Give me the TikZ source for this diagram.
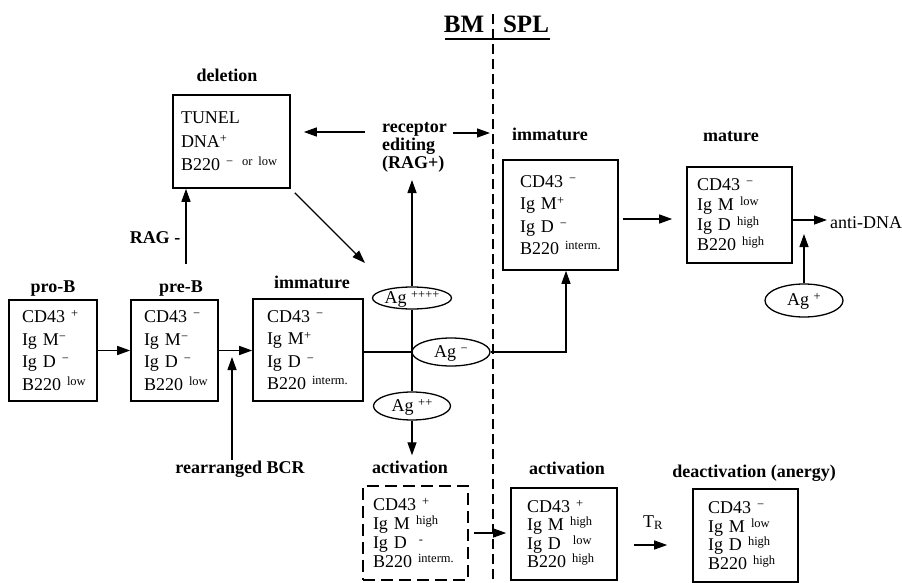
\documentclass[tikz,border=0pt]{standalone}
\usepackage{fontspec}
\setmainfont{Liberation Serif}
\usetikzlibrary{arrows.meta,shapes.geometric,calc}
\newcommand\spp[1]{\raisebox{5pt}{\fontsize{12.5}{12.5}\selectfont #1}}
\begin{document}
\begin{tikzpicture}[x=1pt,y=-1pt,
  arr/.style={line width=1.3pt,-{Triangle[length=13pt,width=9pt]}},
  ln/.style={line width=1.3pt},
  cellbox/.style={draw,line width=1.6pt,align=left,inner ysep=0pt},
  dcell/.style={cellbox,dash pattern=on 12pt off 6pt},
  ttl/.style={font=\fontsize{18}{20}\selectfont\bfseries,inner sep=0pt,anchor=base},
  agell/.style={draw,ellipse,line width=1.3pt,inner sep=0pt,text height=12pt,text depth=2pt,font=\fontsize{18}{20}\selectfont},
  txt/.style={font=\fontsize{18}{20}\selectfont,inner sep=0pt}
]
\useasboundingbox (0,0) rectangle (902,583);

% BM | SPL
\node[ttl,font=\fontsize{25}{28}\selectfont\bfseries] (bm) at (464,33) {BM};
\node[ttl,font=\fontsize{25}{28}\selectfont\bfseries] (spl) at (526,33) {SPL};
\draw[line width=1.5pt] (445,39) -- (550,39);
\draw[line width=1.3pt,dash pattern=on 10pt off 5pt] (493,14) -- (493,583);

% boxes
\node[cellbox,text width=62pt,inner xsep=13pt,minimum height=101pt,font=\fontsize{18}{22.5}\selectfont] (proB) at (53,350.5)
  {CD43~\spp{+}\\Ig~M\spp{−}\\Ig~D~\spp{−}\\B220~\spp{low}};
\node[cellbox,text width=61pt,inner xsep=13pt,minimum height=101pt,font=\fontsize{18}{22.5}\selectfont] (preB) at (174.5,350.5)
  {CD43~\spp{−}\\Ig~M\spp{−}\\Ig~D~\spp{−}\\B220~\spp{low}};
\node[cellbox,text width=82pt,inner xsep=14pt,minimum height=102pt,font=\fontsize{18}{22.5}\selectfont] (immBM) at (308,350)
  {CD43~\spp{−}\\Ig~M\spp{+}\\Ig~D~\spp{−}\\B220~\spp{interm.}};
\node[cellbox,text width=101pt,inner xsep=8pt,minimum height=93pt,font=\fontsize{18}{23.5}\selectfont] (del) at (231.5,141.5)
  {TUNEL\\DNA\spp{+}\\B220~\spp{−}\enspace\spp{or~low}};
\node[cellbox,text width=81pt,inner xsep=17pt,minimum height=110pt,font=\fontsize{18}{22.3}\selectfont] (immS) at (560.5,215)
  {CD43~\spp{−}\\Ig~M\spp{+}\\Ig~D~\spp{−}\\B220~\spp{interm.}};
\node[cellbox,text width=85pt,inner xsep=10pt,minimum height=96pt,font=\fontsize{18}{20}\selectfont] (mat) at (739.5,215)
  {CD43~\spp{−}\\Ig~M~\spp{low}\\Ig~D~\spp{high}\\B220~\spp{high}};
\node[dcell,text width=85pt,inner xsep=10pt,minimum height=94pt,font=\fontsize{18}{19}\selectfont] (dBM) at (415.5,533)
  {CD43~\spp{+}\\Ig~M~\spp{high}\\Ig~D~~\spp{-}\\B220~\spp{interm.}};
\node[cellbox,text width=74pt,inner xsep=16pt,minimum height=92pt,font=\fontsize{18}{18.5}\selectfont] (actS) at (564,534)
  {CD43~\spp{+}\\Ig~M~\spp{high}\\Ig~D~~\spp{low}\\B220~\spp{high}};
\node[cellbox,text width=75pt,inner xsep=15pt,minimum height=93pt,font=\fontsize{18}{18.7}\selectfont] (deact) at (745.5,535.5)
  {CD43~\spp{−}\\Ig~M~\spp{low}\\Ig~D~\spp{high}\\B220~\spp{high}};

% titles and labels
\node[ttl] (tproB) at (53,292) {pro-B};
\node[ttl] (tpreB) at (181,292) {pre-B};
\node[ttl] (timmBM) at (312,288) {immature};
\node[ttl] (tdel) at (227,82) {deletion};
\node[ttl] (timmS) at (550,140) {immature};
\node[ttl] (tmat) at (731,142) {mature};
\node[ttl] (tactBM) at (410,473) {activation};
\node[ttl] (tactS) at (567,474) {activation};
\node[ttl] (tdeact) at (754,477) {deactivation (anergy)};
\node[ttl] (bcr) at (240,473) {rearranged BCR};
\node[ttl] (rag) at (155,243) {RAG -};
\node[ttl,align=left,anchor=west,font=\fontsize{18}{18}\selectfont\bfseries] (rec) at (382,147.5) {receptor\\editing\\(RAG+)};
\node[txt,anchor=base west] (anti) at (830,228) {anti-DNA};
\node[txt,anchor=base] (tr) at (653,527) {T\textsubscript{R}};

% antigen ellipses
\node[agell,minimum width=79pt,minimum height=22pt] (ag4) at (412,298) {Ag~\spp{++++}};
\node[agell,minimum width=78pt,minimum height=28pt] (agm) at (451,352) {Ag~\spp{−}};
\node[agell,minimum width=77pt,minimum height=28pt] (ag2) at (412,406) {Ag~\spp{++}};
\node[agell,minimum width=78pt,minimum height=33pt] (agp) at (804,300.5) {Ag~\spp{+}};

% coordinates
\coordinate (bcrtip) at (232,357);
\coordinate (ragx) at (186,0);
\coordinate (delend) at (365,263);
\coordinate (recL) at (0,132);
\coordinate (dashR) at (490,133);
\coordinate (rectip) at (412,180);
\coordinate (bendS) at (566,0);
\coordinate (ya) at (0,219);
\coordinate (yb) at (0,220);
\coordinate (agptip) at (804,234);
\coordinate (yc) at (0,545);

% connectors
\draw[arr] (proB) -- (preB);
\draw[arr] (preB.east) -- (immBM.west |- preB.east);
\draw[arr] (bcr.north -| bcrtip) -- (bcrtip);
\draw[arr,shorten <=16pt] (tpreB.north -| ragx) -- (del.south -| ragx);
\draw[arr] ([shift={(4,4)}]del.south east) -- (delend);
\draw[arr,shorten <=17pt,shorten >=13pt] (rec.west |- recL) -- (del.east |- recL);
\draw[arr,shorten <=6pt] (rec.east |- dashR) -- (dashR);
\draw[arr] (ag4.north) -- (rectip);
\draw[ln] (ag4.south) -- (ag2.north);
\draw[ln] (immBM.east |- agm.west) -- (agm.west);
\draw[arr] (agm.east) -| (immS.south -| bendS);
\draw[arr,shorten >=5pt] (ag2.south) -- (ag2.south |- tactBM.north);
\draw[arr,shorten <=5pt,shorten >=4pt] (dBM.east) -- (dBM.east -| actS.west);
\draw[arr,shorten <=4pt,shorten >=14pt] (immS.east |- ya) -- (mat.west |- ya);
\draw[arr,shorten >=3pt] (mat.east |- yb) -- (anti.west |- yb);
\draw[arr] (agp.north) -- (agptip);
\draw[arr,shorten <=16pt,shorten >=25pt] (actS.east |- yc) -- (deact.west |- yc);
\end{tikzpicture}
\end{document}
